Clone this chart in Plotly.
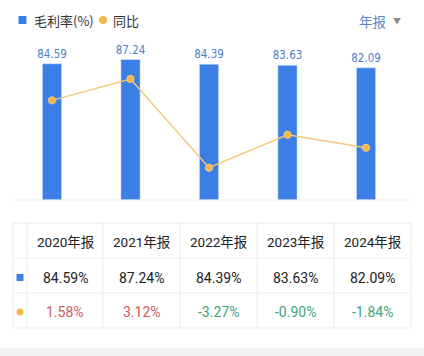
import plotly.graph_objects as go

years = ["2020年报", "2021年报", "2022年报", "2023年报", "2024年报"]
gross_margin = [84.59, 87.24, 84.39, 83.63, 82.09]
yoy = [1.58, 3.12, -3.27, -0.90, -1.84]
legend_names = ["毛利率(%)", "同比"]
period_label = "年报"

BLUE = "#3a7ee6"
ORANGE = "#f2b84b"
LINE = "#f0c878"
RED = "#cf5a5e"
GREEN = "#3aa57a"
GRID = "#ebebeb"
W, H = 424, 356


def py(p):  # pixel y -> paper
    return 1 - p / H


def px(p):  # pixel x -> paper
    return p / W


fig = go.Figure()

fig.add_trace(go.Bar(
    x=years, y=gross_margin, marker_color=BLUE, width=0.245,
    text=[f"{v:.2f}" for v in gross_margin], textposition="outside",
    constraintext="none",
    textfont=dict(size=11.5, color="#4a80c8",
                  family="Liberation Sans Narrow, DejaVu Sans Condensed, Roboto"),
    cliponaxis=False, showlegend=False, yaxis="y", hoverinfo="skip",
))
fig.add_trace(go.Scatter(
    x=years, y=yoy, mode="lines+markers", yaxis="y2",
    line=dict(color=LINE, width=1.4),
    marker=dict(color=ORANGE, size=7.5, line=dict(color="#f7d490", width=0.6)),
    showlegend=False, hoverinfo="skip",
))

annotations = []
shapes = []


def ann(x, y, text, size, color, family="Noto Sans CJK SC", xanchor="left"):
    annotations.append(dict(x=px(x), y=py(y), text=text, xref="paper", yref="paper",
                            xanchor=xanchor, yanchor="middle", showarrow=False,
                            font=dict(size=size, color=color, family=family)))


# legend
shapes.append(dict(type="rect", xref="paper", yref="paper", x0=px(18.5), x1=px(26.5),
                   y0=py(24), y1=py(16), fillcolor=BLUE, line=dict(width=0)))
ann(32, 20.5, legend_names[0], 13, "#333333")
shapes.append(dict(type="circle", xref="paper", yref="paper", x0=px(99), x1=px(107),
                   y0=py(24), y1=py(16), fillcolor=ORANGE, line=dict(width=0)))
ann(111, 20.5, legend_names[1], 13, "#333333")
ann(357, 20.5, period_label, 13.5, "#5b87c5")
ann(396.5, 20, "▼", 8, "#8a8a8a", xanchor="center")

# baseline of chart
shapes.append(dict(type="line", xref="paper", yref="paper", x0=px(12), x1=px(412),
                   y0=py(200), y1=py(200), line=dict(color="#efefef", width=1)))

# table grid
col_edges = [13, 27, 103, 180, 257, 334, 411]
row_edges = [223, 258, 293, 328]
for xe in col_edges:
    shapes.append(dict(type="line", xref="paper", yref="paper", x0=px(xe), x1=px(xe),
                       y0=py(row_edges[0]), y1=py(row_edges[-1]),
                       line=dict(color=GRID, width=1)))
for ye in row_edges:
    shapes.append(dict(type="line", xref="paper", yref="paper", x0=px(col_edges[0]),
                       x1=px(col_edges[-1]), y0=py(ye), y1=py(ye),
                       line=dict(color=GRID, width=1)))

row_y = [241.5, 277.5, 311.5]
for i, yr in enumerate(years):
    cx = (col_edges[i + 1] + col_edges[i + 2]) / 2
    ann(cx, row_y[0], yr, 13.5, "#222222", family="Roboto, Noto Sans CJK SC", xanchor="center")
    ann(cx, row_y[1], f"{gross_margin[i]:.2f}%", 14, "#222222", family="Roboto", xanchor="center")
    ann(cx, row_y[2], f"{yoy[i]:.2f}%", 14, RED if yoy[i] > 0 else GREEN,
        family="Roboto", xanchor="center")

# table row markers
shapes.append(dict(type="rect", xref="paper", yref="paper", x0=px(16.5), x1=px(23.5),
                   y0=py(281), y1=py(274), fillcolor=BLUE, line=dict(width=0)))
shapes.append(dict(type="circle", xref="paper", yref="paper", x0=px(16.5), x1=px(23.5),
                   y0=py(315.5), y1=py(308.5), fillcolor=ORANGE, line=dict(width=0)))

# bottom grey band
shapes.append(dict(type="rect", xref="paper", yref="paper", x0=0, x1=1, y0=0, y1=py(348.5),
                   fillcolor="#f2f2f2", line=dict(width=0), layer="below"))

fig.update_layout(
    width=W, height=H, margin=dict(l=0, r=0, t=0, b=0),
    paper_bgcolor="white", plot_bgcolor="white",
    font=dict(family="Noto Sans CJK SC"),
    xaxis=dict(domain=[px(12.75), px(405.25)], showgrid=False, showticklabels=False,
               zeroline=False, showline=False, ticks=""),
    yaxis=dict(domain=[py(200), py(39)], range=[0, 100], visible=False),
    yaxis2=dict(domain=[py(200), py(39)], range=[-5.6, 6.0], overlaying="y", visible=False),
    annotations=annotations, shapes=shapes, bargap=0, hovermode=False,
)

fig.write_html("out.html", config={"displayModeBar": False, "staticPlot": True},
               post_script="document.body.style.margin='0';document.body.style.padding='0';")
